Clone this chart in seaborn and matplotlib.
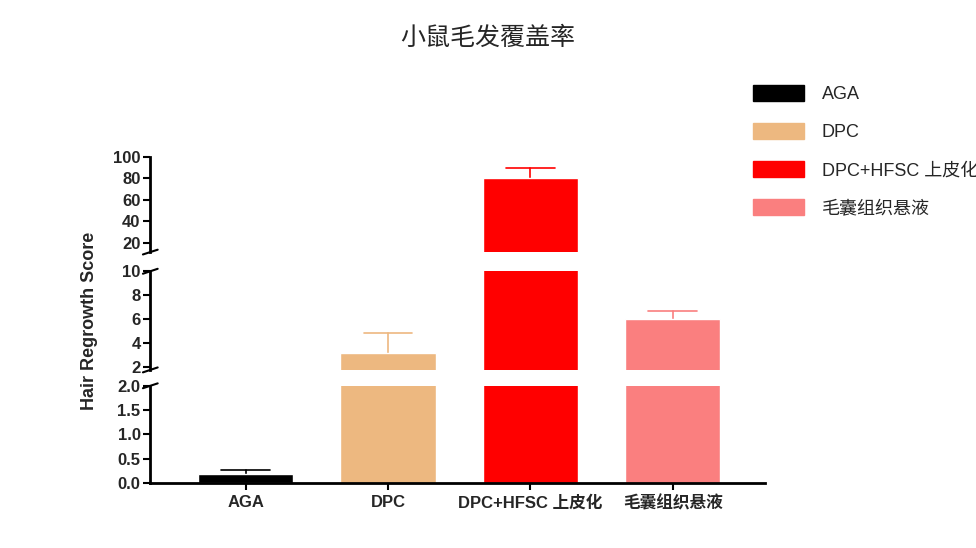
import matplotlib
matplotlib.use("Agg")
import matplotlib.pyplot as plt
import matplotlib.patches as mpatches
import pandas as pd
import seaborn as sns

groups = ["AGA", "DPC", "DPC+HFSC 上皮化", "毛囊组织悬液"]
means = [0.18, 3.2, 80.0, 6.0]
errs = [0.08, 1.6, 10.0, 0.7]
colors = ["#000000", "#EDB880", "#FF0000", "#FA7F7F"]

sns.set_theme(style="white")
plt.rcParams["font.family"] = ["Liberation Sans", "Noto Sans CJK SC", "DejaVu Sans"]

df = pd.DataFrame({"group": groups, "value": means})

fig = plt.figure(figsize=(9.76, 5.48), dpi=100)
L, W = 0.154, 0.63
segs = [
    (0.119, 0.177, (0, 2.0), [0, 0.5, 1.0, 1.5, 2.0], ["0.0", "0.5", "1.0", "1.5", "2.0"]),
    (0.325, 0.180, (1.75, 10), [2, 4, 6, 8, 10], ["2", "4", "6", "8", "10"]),
    (0.540, 0.174, (11.5, 100), [20, 40, 60, 80, 100], ["20", "40", "60", "80", "100"]),
]
axes = []
for i, (b, h, ylim, ticks, labels) in enumerate(segs):
    ax = fig.add_axes([L, b, W, h])
    sns.barplot(data=df, x="group", y="value", hue="group", palette=colors,
                saturation=1, width=0.67, legend=False, ax=ax)
    for x, m, e, col in zip(range(4), means, errs, colors):
        ax.plot([x, x], [m, m + e], color=col, lw=1.2, zorder=0)
        ax.plot([x - 0.17, x + 0.17], [m + e, m + e], color=col, lw=1.2)
    ax.set_xlim(-0.67, 3.65)
    ax.set_ylim(*ylim)
    ax.set_yticks(ticks)
    ax.set_yticklabels(labels, fontweight="bold", fontsize=12)
    ax.set_xlabel("")
    ax.set_ylabel("")
    for s in ["top", "right"]:
        ax.spines[s].set_visible(False)
    ax.spines["left"].set_linewidth(2)
    ax.spines["left"].set_color("black")
    ax.tick_params(axis="y", left=True, length=5, width=1.5, color="black", pad=2)
    if i == 0:
        ax.spines["bottom"].set_linewidth(2)
        ax.spines["bottom"].set_color("black")
        ax.set_xticks(range(4))
        ax.set_xticklabels(groups, fontweight="bold", fontsize=12)
        ax.tick_params(axis="x", bottom=True, length=5, width=1.5, color="black")
    else:
        ax.spines["bottom"].set_visible(False)
        ax.set_xticks([])
    ax.patch.set_alpha(0)
    axes.append(ax)

# break marks on the left axis
for ax in axes:
    for yy in (0, 1):
        if (ax is axes[0] and yy == 0) or (ax is axes[2] and yy == 1):
            continue
        ax.plot([-0.012, 0.012], [yy - 0.025, yy + 0.025], transform=ax.transAxes,
                color="black", lw=1.5, clip_on=False)

fig.text(0.092, 0.415, "Hair Regrowth Score", rotation=90, ha="center", va="center",
         fontweight="bold", fontsize=13)
fig.suptitle("小鼠毛发覆盖率", y=0.955, fontsize=18, family=["Noto Sans CJK SC"])

handles = [mpatches.Patch(color=c, label=g) for c, g in zip(colors, groups)]
fig.legend(handles=handles, loc="upper left", bbox_to_anchor=(0.755, 0.875),
           frameon=False, fontsize=13, handlelength=2.8, handleheight=1.0,
           labelspacing=1.1, handletextpad=1.0)

fig.savefig("out.png", dpi=100)
